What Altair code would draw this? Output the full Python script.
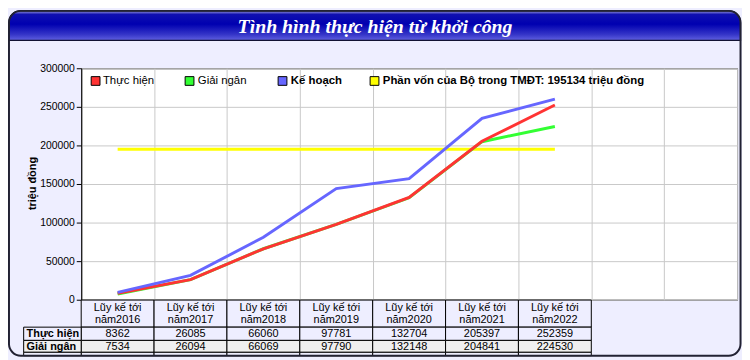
import altair as alt
import pandas as pd

# ---------------- data ----------------
categories = ["Lũy kế tới\nnăm2016", "Lũy kế tới\nnăm2017", "Lũy kế tới\nnăm2018",
              "Lũy kế tới\nnăm2019", "Lũy kế tới\nnăm2020", "Lũy kế tới\nnăm2021",
              "Lũy kế tới\nnăm2022"]
thuc_hien = [8362, 26085, 66060, 97781, 132704, 205397, 252359]
giai_ngan = [7534, 26094, 66069, 97790, 132148, 204841, 224530]
ke_hoach = [9600, 31500, 81000, 144000, 157000, 235000, 260000]
phan_von = [195134, 195134, 195134, 195134, 195134, 195134, 195134]
series_names = ["Thực hiện", "Giải ngân", "Kế hoạch",
                "Phần vốn của Bộ trong TMĐT: 195134 triệu đồng"]
series_colors = ["#FF3333", "#33FF33", "#6666FF", "#FFFF00"]
row_labels = ["Thực hiện", "Giải ngân", "Kế hoạch"]
y_ticks = [0, 50000, 100000, 150000, 200000, 250000, 300000]
n_columns = 9  # 7 categories + 2 empty columns on the x axis
title_text = "Tình hình thực hiện từ khởi công"
y_title = "triệu đồng"

# ---------------- layout (pixels in the reference picture) ----------------
TOTAL_W, TOTAL_H = 742, 352
SX, SY = TOTAL_W / 750, TOTAL_H / 360
PL, PT = 74, 59
W, H = 663, 234
legend_square_left = [85, 181, 276, 370]
legend_label_left = [97, 194, 289, 383]
legend_label_weight = ["normal", "normal", "bold", "bold"]


def lx(x):
    return x * SX - PL


def ly(y):
    return y * SY - PT


FONT = "Liberation Sans"
BG = "#EEEEFF"

# ---------------- tables ----------------
draw_order = [3, 1, 0, 2]
series_values = [thuc_hien, giai_ngan, ke_hoach, phan_von]
rows = []
for s in draw_order:
    for i, v in enumerate(series_values[s]):
        rows.append({"series": series_names[s], "pos": i + 0.5, "value": v})
lines_df = pd.DataFrame(rows)

cells_df = pd.DataFrame({
    "pos": [i for i in range(len(categories))],
    "pos2": [i + 1 for i in range(len(categories))],
    "center": [i + 0.5 for i in range(len(categories))],
    "cat": categories,
    "th": [str(v) for v in thuc_hien],
    "gn": [str(v) for v in giai_ngan],
})

x_scale = alt.Scale(domain=[0, n_columns], nice=False, zero=False)
y_scale = alt.Scale(domain=[0, 300000], nice=False)

lines = alt.Chart(lines_df).mark_line(strokeWidth=3).encode(
    x=alt.X("pos:Q", scale=x_scale,
            axis=alt.Axis(values=list(range(n_columns + 1)), labels=False, ticks=False,
                          domain=False, grid=True, gridColor="#C8C8C8", title=None)),
    y=alt.Y("value:Q", scale=y_scale,
            axis=alt.Axis(values=y_ticks, format="d", labelFontSize=10.5, labelColor="black",
                          labelFont=FONT, tickSize=5, tickColor="black", domainColor="black",
                          labelPadding=2, grid=True, gridColor="#C8C8C8", labelOverlap=False,
                          title=y_title, titleFont=FONT, titleFontSize=11, titleFontWeight="bold",
                          titleColor="black", titleAngle=270, titleX=lx(25), titleY=ly(179),
                          titleAlign="center", titleBaseline="middle")),
    stroke=alt.Stroke("series:N", scale=alt.Scale(domain=series_names, range=series_colors),
                      legend=None),
    detail="series:N",
)

# ---------------- legend (drawn as marks) ----------------
legend_layers = []
for k, name in enumerate(series_names):
    one = pd.DataFrame({"name": [name]})
    legend_layers.append(
        alt.Chart(one).mark_rect(fill=series_colors[k], stroke="black", strokeWidth=1).encode(
            x=alt.value(lx(legend_square_left[k])), x2=alt.value(lx(legend_square_left[k] + 9)),
            y=alt.value(ly(69)), y2=alt.value(ly(78))))
    legend_layers.append(
        alt.Chart(one).mark_text(font=FONT, fontSize=11.5, fontWeight=legend_label_weight[k],
                                 color="black", align="left", baseline="middle").encode(
            x=alt.value(lx(legend_label_left[k])), y=alt.value(ly(74)), text="name:N"))

# ---------------- data table under the plot ----------------
hdr_top, hdr_bot = ly(300), ly(328)
r1_bot = ly(341.7)
r2_bot = ly(354)
r3_bot = ly(357.5)


def cell_row(fill, top, bot):
    return alt.Chart(cells_df).mark_rect(fill=fill, stroke="black", strokeWidth=1).encode(
        x=alt.X("pos:Q", scale=x_scale), x2="pos2:Q",
        y=alt.value(top), y2=alt.value(bot))


def label_cell(fill, top, bot):
    return alt.Chart(pd.DataFrame({"k": [0]})).mark_rect(
        fill=fill, stroke="black", strokeWidth=1).encode(
        x=alt.value(lx(16)), x2=alt.value(0), y=alt.value(top), y2=alt.value(bot))


table_layers = [
    cell_row(BG, hdr_top, hdr_bot),
    cell_row(BG, hdr_bot, r1_bot),
    cell_row("#EFEFEF", r1_bot, r2_bot),
    cell_row(BG, r2_bot, r3_bot),
    label_cell(BG, hdr_bot, r1_bot),
    label_cell("#EFEFEF", r1_bot, r2_bot),
    label_cell(BG, r2_bot, r3_bot),
    alt.Chart(cells_df).mark_text(font=FONT, fontSize=11, color="black", lineBreak="\n",
                                  lineHeight=12.5, baseline="middle").encode(
        x=alt.X("center:Q", scale=x_scale), y=alt.value(ly(308)), text="cat:N"),
    alt.Chart(cells_df).mark_text(font=FONT, fontSize=11, color="black", baseline="middle").encode(
        x=alt.X("center:Q", scale=x_scale), y=alt.value((hdr_bot + r1_bot) / 2 + 0.7), text="th:N"),
    alt.Chart(cells_df).mark_text(font=FONT, fontSize=11, color="black", baseline="middle").encode(
        x=alt.X("center:Q", scale=x_scale), y=alt.value((r1_bot + r2_bot) / 2 + 0.7), text="gn:N"),
    alt.Chart(pd.DataFrame({"t": [row_labels[0]]})).mark_text(
        font=FONT, fontSize=11, fontWeight="bold", color="black", align="left",
        baseline="middle").encode(
        x=alt.value(lx(19)), y=alt.value((hdr_bot + r1_bot) / 2 + 0.7), text="t:N"),
    alt.Chart(pd.DataFrame({"t": [row_labels[1]]})).mark_text(
        font=FONT, fontSize=11, fontWeight="bold", color="black", align="left",
        baseline="middle").encode(
        x=alt.value(lx(19)), y=alt.value((r1_bot + r2_bot) / 2 + 0.7), text="t:N"),
]

# ---------------- title bar and frame ----------------
grad = alt.Gradient(gradient="linear", x1=0, x2=0, y1=0, y2=1, stops=[
    alt.GradientStop(color="#A0A0E0", offset=0),
    alt.GradientStop(color="#1010B0", offset=0.12),
    alt.GradientStop(color="#0000B0", offset=0.45),
    alt.GradientStop(color="#3535C8", offset=0.8),
    alt.GradientStop(color="#6060E0", offset=1),
])
title_bar = alt.Chart(pd.DataFrame({"k": [0]})).mark_rect(
    fill=grad, stroke="#111133", strokeWidth=1.2,
    cornerRadiusTopLeft=11, cornerRadiusTopRight=11).encode(
    x=alt.value(lx(1)), x2=alt.value(lx(748.5)), y=alt.value(ly(1)), y2=alt.value(ly(31.5)))
title = alt.Chart(pd.DataFrame({"t": [title_text]})).mark_text(
    font="Liberation Serif", fontSize=20, fontStyle="italic", fontWeight="bold",
    color="white", align="center", baseline="alphabetic").encode(
    x=alt.value(lx(375)), y=alt.value(ly(24)), text="t:N")

frame = alt.Chart(pd.DataFrame({"k": [0]})).mark_rect(
    fillOpacity=0, stroke="#222233", strokeWidth=2, cornerRadius=12).encode(
    x=alt.value(lx(1)), x2=alt.value(lx(748.5)), y=alt.value(ly(1)), y2=alt.value(ly(357.5)))

chart = alt.layer(
    lines, *legend_layers, *table_layers, title_bar, title, frame,
).properties(
    width=W, height=H,
    padding={"left": PL, "top": PT, "right": TOTAL_W - PL - W, "bottom": TOTAL_H - PT - H},
    autosize=alt.AutoSizeParams(type="none"),
    background=BG,
).configure(
    font=FONT
).configure_view(
    fill="white", stroke="black", strokeWidth=1
)

chart.save("out.html", embed_options={"renderer": "svg", "actions": False})
